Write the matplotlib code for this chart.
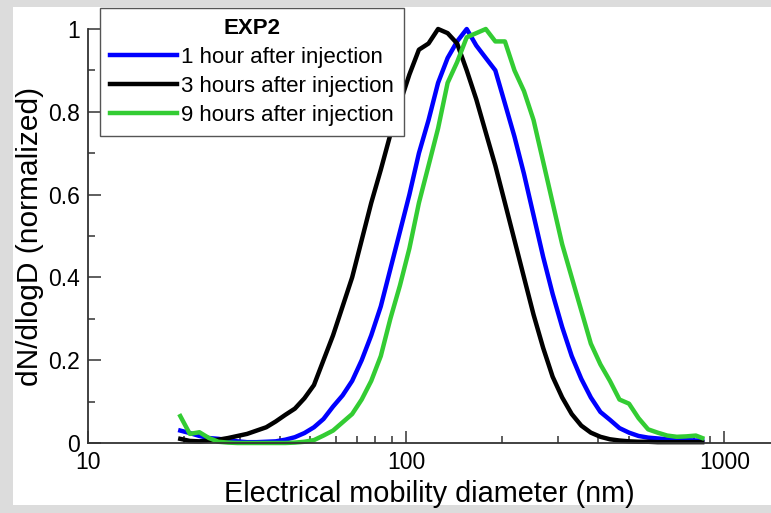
import matplotlib
matplotlib.use("Agg")
import matplotlib.pyplot as plt
from matplotlib.patches import Rectangle
from matplotlib.ticker import MultipleLocator, LogLocator, NullFormatter

plt.rcParams['font.family'] = ['Liberation Sans', 'DejaVu Sans']

# SMPS size bins (nm)
diam = [19.50, 20.89, 22.39, 23.99, 25.70, 27.54, 29.51, 31.62, 33.88, 36.31,
        38.90, 41.69, 44.67, 47.86, 51.29, 54.95, 58.88, 63.10, 67.61, 72.44,
        77.62, 83.18, 89.13, 95.50, 102.3, 109.6, 117.5, 125.9, 134.9, 144.5,
        154.9, 166.0, 177.8, 190.5, 204.2, 218.8, 234.4, 251.2, 269.2, 288.4,
        309.0, 331.1, 354.8, 380.2, 407.4, 436.5, 467.7, 501.2, 537.0, 575.4,
        616.6, 660.7, 707.9, 758.6, 812.8, 851.1]

# normalized dN/dlogD, EXP2
h1 = [0.030, 0.024, 0.017, 0.012, 0.010, 0.007, 0.004, 0.002, 0.002, 0.003,
      0.004, 0.008, 0.014, 0.024, 0.038, 0.058, 0.088, 0.115, 0.150, 0.200,
      0.260, 0.330, 0.420, 0.510, 0.600, 0.700, 0.780, 0.870, 0.930, 0.970,
      1.000, 0.960, 0.930, 0.900, 0.820, 0.740, 0.650, 0.550, 0.450, 0.360,
      0.280, 0.210, 0.155, 0.110, 0.075, 0.056, 0.036, 0.025, 0.017, 0.013,
      0.011, 0.009, 0.008, 0.007, 0.006, 0.006]

h3 = [0.010, 0.005, 0.004, 0.006, 0.008, 0.012, 0.017, 0.022, 0.030, 0.038,
      0.052, 0.068, 0.083, 0.108, 0.140, 0.200, 0.260, 0.330, 0.400, 0.490,
      0.580, 0.660, 0.745, 0.820, 0.890, 0.950, 0.965, 1.000, 0.990, 0.965,
      0.900, 0.830, 0.750, 0.670, 0.580, 0.490, 0.400, 0.310, 0.230, 0.160,
      0.110, 0.070, 0.042, 0.025, 0.015, 0.009, 0.006, 0.004, 0.003, 0.003,
      0.002, 0.002, 0.002, 0.002, 0.002, 0.002]

h9 = [0.065, 0.022, 0.026, 0.012, 0.003, 0.001, 0.000, 0.000, 0.000, 0.000,
      0.000, 0.000, 0.001, 0.003, 0.007, 0.018, 0.030, 0.050, 0.070, 0.105,
      0.150, 0.210, 0.300, 0.380, 0.470, 0.580, 0.670, 0.760, 0.870, 0.920,
      0.980, 0.990, 1.000, 0.970, 0.970, 0.900, 0.850, 0.780, 0.680, 0.580,
      0.480, 0.400, 0.320, 0.240, 0.190, 0.150, 0.105, 0.095, 0.060, 0.033,
      0.025, 0.018, 0.015, 0.016, 0.018, 0.012]

labels = ["1 hour after injection", "3 hours after injection", "9 hours after injection"]
colors = ["#0000ff", "#000000", "#33cc33"]

fig = plt.figure(figsize=(7.71, 5.13), dpi=100, facecolor="#dcdcdc")
# white panel behind the plot
fig.patches.append(Rectangle((13/771, 8/513), 1 - 13/771, 1 - 15/513,
                             transform=fig.transFigure, facecolor="white",
                             edgecolor="none", zorder=-10))

ax = fig.add_axes([88/771, 70/513, 683/771, 414/513])
ax.set_facecolor("none")

for y, lab, c in zip([h1, h3, h9], labels, colors):
    ax.plot(diam, y, color=c, lw=3.2, label=lab, clip_on=False)

ax.set_xscale("log")
ax.set_xlim(10, 1400)
ax.set_ylim(0, 1)
ax.yaxis.set_minor_locator(MultipleLocator(0.1))
ax.set_yticks([0, 0.2, 0.4, 0.6, 0.8, 1.0])
ax.set_yticklabels(["0", "0.2", "0.4", "0.6", "0.8", "1"])
ax.xaxis.set_minor_locator(LogLocator(base=10, subs=range(2, 10)))
ax.xaxis.set_minor_formatter(NullFormatter())
ax.set_xticks([10, 100, 1000])
ax.set_xticklabels(["10", "100", "1000"])

for s in ["top", "right"]:
    ax.spines[s].set_visible(False)
for s in ["left", "bottom"]:
    ax.spines[s].set_color("#333333")
    ax.spines[s].set_linewidth(1.3)

ax.tick_params(which="major", direction="in", length=9, width=1.1,
               color="#333333", labelsize=16.5)
ax.tick_params(axis="x", which="major", pad=6)
ax.tick_params(axis="y", which="major", pad=6)
ax.tick_params(which="minor", direction="in", length=5, width=1.1, color="#333333")

ax.set_xlabel("Electrical mobility diameter (nm)", fontsize=20.8, labelpad=4)
ax.set_ylabel("dN/dlogD (normalized)", fontsize=21.5, labelpad=3)

leg = ax.legend(loc="upper left", bbox_to_anchor=(100/771, 1 - 8/513),
                bbox_transform=fig.transFigure, borderaxespad=0,
                title="EXP2", title_fontproperties={"weight": "bold", "size": 16},
                fontsize=16, fancybox=False, framealpha=1, edgecolor="#555555",
                handlelength=3.0, handletextpad=0.2, labelspacing=0.36,
                borderpad=0.45)
leg.get_frame().set_linewidth(1.0)

fig.savefig("out.png", dpi=100, facecolor=fig.get_facecolor())
